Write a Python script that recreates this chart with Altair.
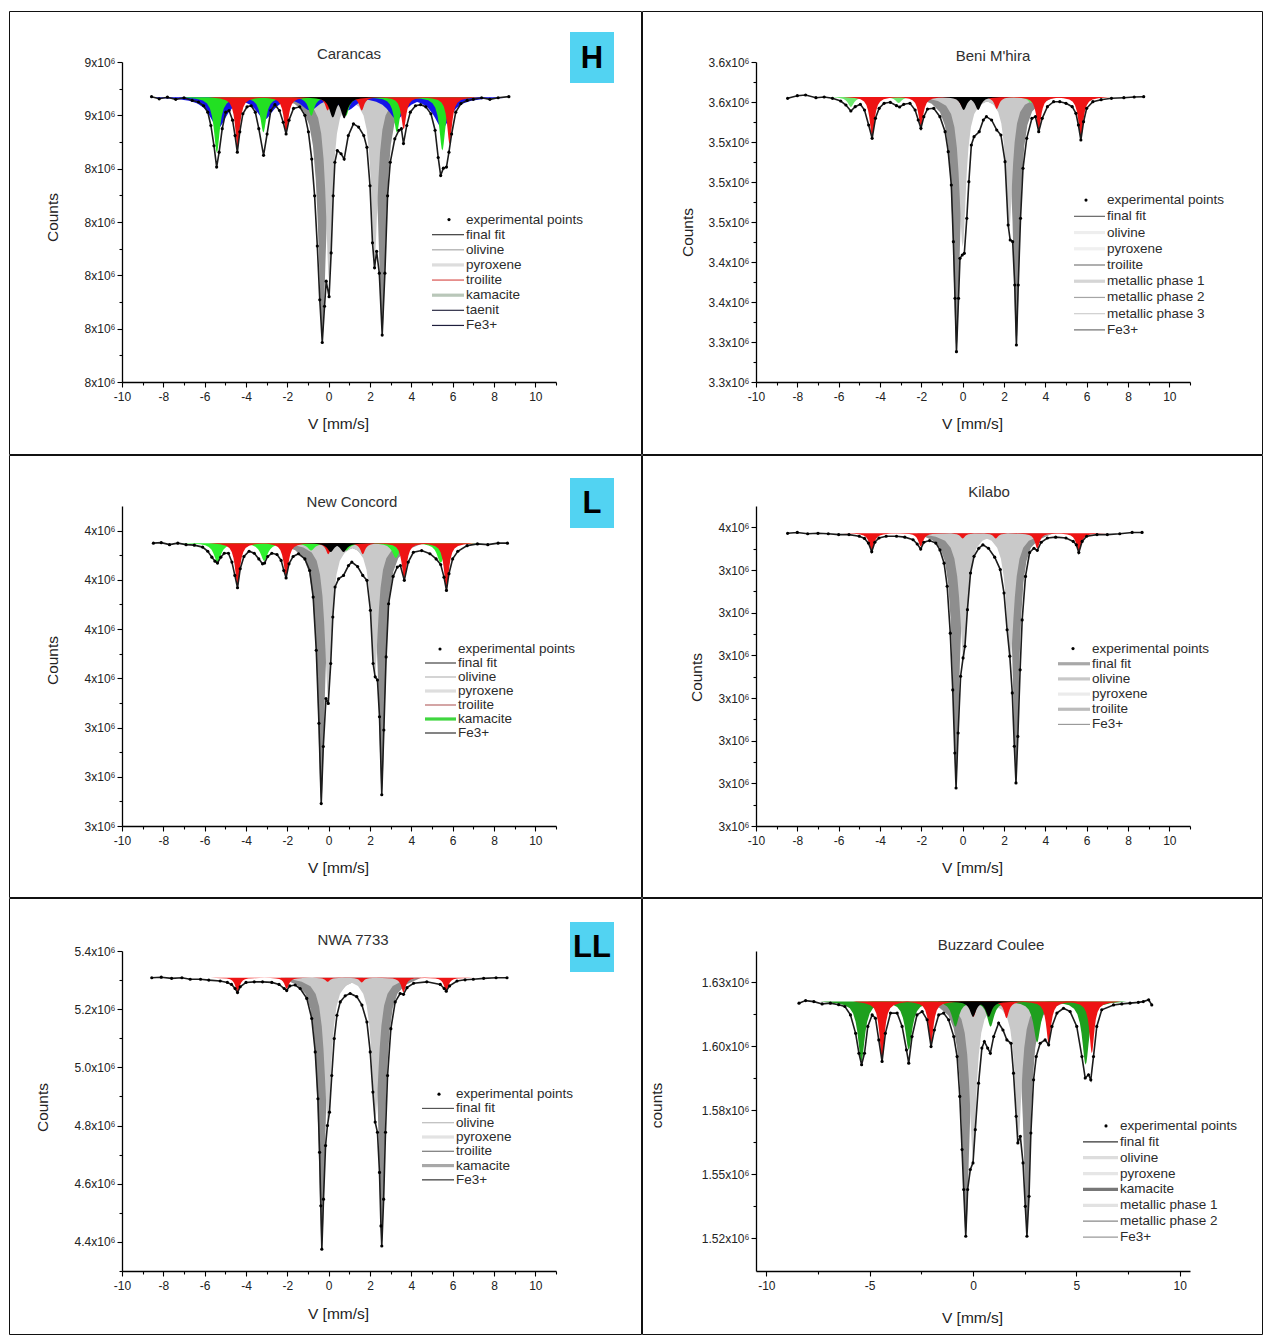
import altair as alt
import pandas as pd

FONT = "Liberation Sans, Arial, Helvetica, sans-serif"

# ----------------------------------------------------------------- data
# tabulated line shape of one fitted sub-spectrum line (offset in line widths, fraction of depth)
LINE_SHAPE_U = [-5, -3, -2, -1.4, -1.0, -0.7, -0.5, -0.35, -0.2, -0.1, 0,
                0.1, 0.2, 0.35, 0.5, 0.7, 1.0, 1.4, 2, 3, 5]
LINE_SHAPE_F = [0, 0.027, 0.059, 0.113, 0.2, 0.338, 0.5, 0.671, 0.862, 0.962, 1,
                0.962, 0.862, 0.671, 0.5, 0.338, 0.2, 0.113, 0.059, 0.027, 0]

X_TICKS_EVEN = [-10, -8, -6, -4, -2, 0, 2, 4, 6, 8, 10]
X_MINOR_ODD = [-9, -7, -5, -3, -1, 1, 3, 5, 7, 9, 11]
X_TICKS_FIVE = [-10, -5, 0, 5, 10]
X_MINOR_FIVE = [-7.5, -2.5, 2.5, 7.5]

# (velocity mm/s, counts x10^6)
CARANCAS_SPECTRUM = [
    (-8.57, 8.535), (-8.2, 8.531), (-7.8, 8.534), (-7.4, 8.530), (-7.0, 8.533), (-6.6, 8.528),
    (-6.3, 8.525), (-6.05, 8.518), (-5.85, 8.506), (-5.7, 8.481), (-5.55, 8.443), (-5.42, 8.403),
    (-5.3, 8.431), (-5.15, 8.475), (-4.98, 8.506), (-4.82, 8.509), (-4.65, 8.491), (-4.53, 8.462),
    (-4.42, 8.431), (-4.3, 8.469), (-4.15, 8.503), (-3.95, 8.516), (-3.75, 8.518), (-3.55, 8.506),
    (-3.38, 8.475), (-3.15, 8.425), (-2.98, 8.465), (-2.8, 8.509), (-2.6, 8.520), (-2.38, 8.509),
    (-2.2, 8.487), (-2.06, 8.465), (-1.92, 8.491), (-1.7, 8.513), (-1.4, 8.516), (-1.15, 8.500),
    (-0.98, 8.469), (-0.82, 8.418), (-0.68, 8.349), (-0.55, 8.255), (-0.43, 8.154), (-0.31, 8.074),
    (-0.2, 8.142), (-0.12, 8.189), (0.02, 8.160), (0.12, 8.242), (0.22, 8.349), (0.3, 8.412),
    (0.42, 8.434), (0.6, 8.428), (0.75, 8.418), (0.95, 8.462), (1.2, 8.484), (1.45, 8.478),
    (1.7, 8.462), (1.85, 8.440), (2.0, 8.368), (2.12, 8.261), (2.22, 8.214), (2.32, 8.245),
    (2.45, 8.204), (2.59, 8.088), (2.72, 8.204), (2.85, 8.349), (2.98, 8.412), (3.2, 8.456),
    (3.4, 8.472), (3.52, 8.475), (3.62, 8.447), (3.78, 8.481), (3.95, 8.506), (4.2, 8.518),
    (4.45, 8.520), (4.7, 8.516), (4.95, 8.503), (5.15, 8.472), (5.3, 8.421), (5.42, 8.387),
    (5.55, 8.401), (5.7, 8.403), (5.82, 8.431), (5.95, 8.465), (6.15, 8.506), (6.4, 8.522),
    (6.7, 8.528), (7.0, 8.530), (7.4, 8.533), (7.8, 8.530), (8.2, 8.533), (8.72, 8.535),
]
CARANCAS_BASELINE = 8.534
# (phase, centre mm/s, depth x10^6, line width mm/s)
CARANCAS_PEAKS = [
    ("olivine", -0.31, 0.456, 0.45), ("olivine", 2.59, 0.443, 0.42),
    ("pyroxene", 0.02, 0.343, 0.38), ("pyroxene", 2.22, 0.305, 0.38),
    ("taenit", -5.35, 0.058, 1.0), ("taenit", -3.1, 0.042, 1.0), ("taenit", -0.9, 0.025, 1.0),
    ("taenit", 0.9, 0.025, 1.0), ("taenit", 3.3, 0.042, 1.0), ("taenit", 5.5, 0.058, 1.0),
    ("kamacite", -5.41, 0.104, 0.34), ("kamacite", -3.16, 0.066, 0.34), ("kamacite", -0.84, 0.035, 0.34),
    ("kamacite", 0.84, 0.035, 0.34), ("kamacite", 3.3, 0.066, 0.34), ("kamacite", 5.5, 0.10, 0.34),
    ("troilite", -4.41, 0.094, 0.28), ("troilite", -2.06, 0.066, 0.28), ("troilite", -0.05, 0.025, 0.28),
    ("troilite", 1.6, 0.025, 0.28), ("troilite", 3.63, 0.06, 0.28), ("troilite", 5.85, 0.088, 0.28),
    ("Fe3+", 0.2, 0.038, 0.4), ("Fe3+", 0.75, 0.04, 0.4),
]
CARANCAS_Y_TICKS = [8.0, 8.1, 8.2, 8.3, 8.4, 8.5, 8.6]
CARANCAS_Y_LABELS = ["8x10⁶", "8x10⁶", "8x10⁶", "8x10⁶", "8x10⁶", "9x10⁶", "9x10⁶"]
CARANCAS_Y_MINOR = [8.05, 8.15, 8.25, 8.35, 8.45, 8.55]
CARANCAS_LEGEND = ["experimental points", "final fit", "olivine", "pyroxene", "troilite",
                   "kamacite", "taenit", "Fe3+"]

BENI_SPECTRUM = [
    (-8.47, 3.5837), (-8.0, 3.5863), (-7.6, 3.5870), (-7.1, 3.5843), (-6.7, 3.5850), (-6.3, 3.5837),
    (-5.9, 3.5810), (-5.65, 3.5770), (-5.41, 3.5710), (-5.2, 3.5753), (-4.95, 3.5777), (-4.75, 3.5720),
    (-4.55, 3.5570), (-4.38, 3.5437), (-4.22, 3.5637), (-4.04, 3.5737), (-3.8, 3.5787), (-3.5, 3.5797),
    (-3.2, 3.5763), (-3.05, 3.5750), (-2.85, 3.5777), (-2.55, 3.5787), (-2.3, 3.5720), (-2.15, 3.5620),
    (-2.02, 3.5537), (-1.88, 3.5653), (-1.7, 3.5730), (-1.4, 3.5737), (-1.1, 3.5653), (-0.85, 3.5503),
    (-0.7, 3.5303), (-0.55, 3.4970), (-0.45, 3.4403), (-0.37, 3.3837), (-0.3, 3.3303), (-0.2, 3.3837),
    (-0.13, 3.4237), (-0.02, 3.4270), (0.08, 3.4287), (0.2, 3.4637), (0.3, 3.5003), (0.42, 3.5370),
    (0.55, 3.5453), (0.8, 3.5503), (1.0, 3.5620), (1.15, 3.5653), (1.4, 3.5620), (1.65, 3.5520),
    (1.85, 3.5470), (2.05, 3.5203), (2.2, 3.4570), (2.3, 3.4420), (2.42, 3.4403), (2.52, 3.3970),
    (2.6, 3.3370), (2.69, 3.3970), (2.8, 3.4637), (2.92, 3.5137), (3.1, 3.5437), (3.35, 3.5637),
    (3.52, 3.5653), (3.68, 3.5503), (3.85, 3.5637), (4.1, 3.5753), (4.4, 3.5803), (4.7, 3.5803),
    (5.0, 3.5787), (5.3, 3.5753), (5.48, 3.5687), (5.6, 3.5570), (5.72, 3.5420), (5.85, 3.5603),
    (6.0, 3.5737), (6.3, 3.5803), (6.7, 3.5823), (7.2, 3.5837), (7.8, 3.5843), (8.3, 3.5850),
    (8.76, 3.5853),
]
BENI_BASELINE = 3.585
BENI_PEAKS = [
    ("olivine", -0.3, 0.253, 0.4), ("olivine", 2.6, 0.247, 0.38),
    ("pyroxene", 0.0, 0.15, 0.4), ("pyroxene", 2.25, 0.133, 0.38),
    ("metallic", -5.41, 0.01, 0.35), ("metallic", -3.1, 0.006, 0.35),
    ("metallic", 3.3, 0.006, 0.35), ("metallic", 5.5, 0.008, 0.35),
    ("troilite", -4.38, 0.040, 0.28), ("troilite", -2.02, 0.030, 0.28), ("troilite", -0.02, 0.01, 0.28),
    ("troilite", 1.65, 0.012, 0.28), ("troilite", 3.68, 0.033, 0.28), ("troilite", 5.72, 0.042, 0.28),
    ("Fe3+", 0.05, 0.013, 0.35), ("Fe3+", 0.75, 0.013, 0.35),
]
BENI_Y_TICKS = [3.3, 3.34, 3.38, 3.42, 3.46, 3.5, 3.54, 3.58, 3.62]
BENI_Y_LABELS = ["3.3x10⁶", "3.3x10⁶", "3.4x10⁶", "3.4x10⁶", "3.5x10⁶", "3.5x10⁶", "3.5x10⁶",
                 "3.6x10⁶", "3.6x10⁶"]
BENI_Y_MINOR = [3.32, 3.36, 3.4, 3.44, 3.48, 3.52, 3.56, 3.6]
BENI_LEGEND = ["experimental points", "final fit", "olivine", "pyroxene", "troilite",
               "metallic phase 1", "metallic phase 2", "metallic phase 3", "Fe3+"]

NEW_CONCORD_SPECTRUM = [
    (-8.48, 4.149), (-8.1, 4.151), (-7.7, 4.143), (-7.3, 4.149), (-6.9, 4.143), (-6.5, 4.141),
    (-6.1, 4.133), (-5.85, 4.116), (-5.65, 4.092), (-5.5, 4.076), (-5.38, 4.068), (-5.22, 4.092),
    (-5.05, 4.108), (-4.85, 4.108), (-4.68, 4.072), (-4.54, 4.018), (-4.41, 3.968), (-4.28, 4.045),
    (-4.1, 4.095), (-3.85, 4.116), (-3.6, 4.108), (-3.38, 4.085), (-3.2, 4.065), (-3.1, 4.068),
    (-2.95, 4.095), (-2.75, 4.108), (-2.5, 4.103), (-2.3, 4.079), (-2.17, 4.038), (-2.06, 4.008),
    (-1.92, 4.065), (-1.72, 4.095), (-1.46, 4.106), (-1.15, 4.085), (-0.92, 4.038), (-0.75, 3.930),
    (-0.6, 3.714), (-0.47, 3.417), (-0.36, 3.091), (-0.26, 3.323), (-0.13, 3.518), (-0.02, 3.498),
    (0.1, 3.660), (0.2, 3.849), (0.31, 3.971), (0.48, 4.004), (0.72, 4.018), (0.96, 4.058),
    (1.12, 4.072), (1.4, 4.054), (1.65, 4.018), (1.85, 3.998), (2.02, 3.876), (2.15, 3.660),
    (2.25, 3.606), (2.36, 3.593), (2.46, 3.444), (2.57, 3.127), (2.67, 3.390), (2.78, 3.687),
    (2.9, 3.903), (3.12, 4.014), (3.32, 4.052), (3.47, 4.058), (3.66, 3.998), (3.85, 4.072),
    (4.1, 4.112), (4.5, 4.119), (4.9, 4.106), (5.2, 4.085), (5.42, 4.062), (5.58, 4.011),
    (5.7, 3.957), (5.82, 4.025), (6.0, 4.085), (6.25, 4.116), (6.7, 4.139), (7.2, 4.146),
    (7.7, 4.143), (8.2, 4.149), (8.65, 4.149),
]
NEW_CONCORD_BASELINE = 4.149
NEW_CONCORD_PEAKS = [
    ("olivine", -0.36, 1.053, 0.42), ("olivine", 2.57, 1.015, 0.4),
    ("pyroxene", -0.02, 0.634, 0.4), ("pyroxene", 2.23, 0.54, 0.4),
    ("kamacite", -5.38, 0.077, 0.42), ("kamacite", -3.12, 0.072, 0.42), ("kamacite", -0.85, 0.03, 0.42),
    ("kamacite", 0.85, 0.03, 0.42), ("kamacite", 3.25, 0.06, 0.42), ("kamacite", 5.42, 0.08, 0.42),
    ("troilite", -4.41, 0.178, 0.28), ("troilite", -2.06, 0.138, 0.28), ("troilite", -0.02, 0.045, 0.28),
    ("troilite", 1.65, 0.045, 0.28), ("troilite", 3.66, 0.15, 0.28), ("troilite", 5.7, 0.19, 0.28),
    ("Fe3+", 0.1, 0.036, 0.4), ("Fe3+", 0.72, 0.036, 0.4),
]
NEW_CONCORD_Y_TICKS = [3.0, 3.2, 3.4, 3.6, 3.8, 4.0, 4.2]
NEW_CONCORD_Y_LABELS = ["3x10⁶", "3x10⁶", "3x10⁶", "4x10⁶", "4x10⁶", "4x10⁶", "4x10⁶"]
NEW_CONCORD_Y_MINOR = [3.1, 3.3, 3.5, 3.7, 3.9, 4.1]
NEW_CONCORD_LEGEND = ["experimental points", "final fit", "olivine", "pyroxene", "troilite",
                      "kamacite", "Fe3+"]

KILABO_SPECTRUM = [
    (-8.47, 3.486), (-8.0, 3.488), (-7.5, 3.485), (-7.0, 3.486), (-6.5, 3.485), (-6.0, 3.483),
    (-5.5, 3.483), (-5.0, 3.479), (-4.75, 3.474), (-4.56, 3.463), (-4.4, 3.443), (-4.25, 3.465),
    (-4.05, 3.475), (-3.7, 3.479), (-3.2, 3.479), (-2.8, 3.477), (-2.4, 3.471), (-2.2, 3.461),
    (-2.03, 3.449), (-1.88, 3.465), (-1.6, 3.469), (-1.3, 3.463), (-1.1, 3.447), (-0.9, 3.416),
    (-0.75, 3.362), (-0.6, 3.252), (-0.48, 3.119), (-0.38, 2.971), (-0.32, 2.889), (-0.22, 3.018),
    (-0.1, 3.151), (0.02, 3.194), (0.11, 3.221), (0.23, 3.307), (0.38, 3.393), (0.55, 3.432),
    (0.78, 3.451), (0.98, 3.459), (1.25, 3.451), (1.55, 3.430), (1.82, 3.401), (2.0, 3.346),
    (2.15, 3.260), (2.28, 3.198), (2.4, 3.112), (2.5, 2.987), (2.58, 2.901), (2.67, 3.010),
    (2.78, 3.166), (2.88, 3.283), (3.04, 3.385), (3.24, 3.441), (3.45, 3.451), (3.61, 3.446),
    (3.8, 3.465), (4.1, 3.475), (4.5, 3.477), (5.0, 3.475), (5.35, 3.467), (5.5, 3.459),
    (5.62, 3.441), (5.78, 3.467), (6.0, 3.479), (6.5, 3.483), (7.0, 3.483), (7.6, 3.485),
    (8.2, 3.488), (8.68, 3.488),
]
KILABO_BASELINE = 3.486
KILABO_PEAKS = [
    ("olivine", -0.32, 0.593, 0.38), ("olivine", 2.58, 0.578, 0.36),
    ("pyroxene", 0.05, 0.297, 0.45), ("pyroxene", 2.3, 0.297, 0.45),
    ("troilite", -4.4, 0.043, 0.28), ("troilite", -2.03, 0.031, 0.28), ("troilite", 0.0, 0.012, 0.28),
    ("troilite", 1.6, 0.012, 0.28), ("troilite", 3.61, 0.035, 0.28), ("troilite", 5.62, 0.045, 0.28),
]
KILABO_Y_TICKS = [2.8, 2.9, 3.0, 3.1, 3.2, 3.3, 3.4, 3.5]
KILABO_Y_LABELS = ["3x10⁶", "3x10⁶", "3x10⁶", "3x10⁶", "3x10⁶", "3x10⁶", "3x10⁶", "4x10⁶"]
KILABO_Y_MINOR = [2.85, 2.95, 3.05, 3.15, 3.25, 3.35, 3.45]
KILABO_LEGEND = ["experimental points", "final fit", "olivine", "pyroxene", "troilite", "Fe3+"]

NWA_SPECTRUM = [
    (-8.56, 5.308), (-8.1, 5.310), (-7.6, 5.306), (-7.1, 5.308), (-6.7, 5.303), (-6.2, 5.303),
    (-5.8, 5.300), (-5.25, 5.297), (-4.9, 5.292), (-4.7, 5.285), (-4.53, 5.271), (-4.41, 5.257),
    (-4.28, 5.277), (-4.0, 5.292), (-3.6, 5.294), (-3.2, 5.294), (-2.75, 5.292), (-2.4, 5.285),
    (-2.15, 5.271), (-2.03, 5.264), (-1.88, 5.280), (-1.62, 5.283), (-1.38, 5.271), (-1.06, 5.237),
    (-0.82, 5.168), (-0.65, 5.053), (-0.52, 4.892), (-0.44, 4.708), (-0.38, 4.524), (-0.33, 4.375),
    (-0.25, 4.547), (-0.15, 4.731), (-0.06, 4.800), (0.04, 4.846), (0.15, 4.972), (0.27, 5.099),
    (0.4, 5.179), (0.56, 5.225), (0.8, 5.246), (1.04, 5.254), (1.36, 5.243), (1.61, 5.214),
    (1.85, 5.156), (2.01, 5.053), (2.14, 4.915), (2.25, 4.812), (2.36, 4.777), (2.46, 4.639),
    (2.53, 4.455), (2.57, 4.386), (2.66, 4.547), (2.75, 4.777), (2.85, 4.972), (3.01, 5.133),
    (3.22, 5.225), (3.46, 5.254), (3.62, 5.251), (3.79, 5.274), (4.11, 5.289), (4.75, 5.294),
    (5.4, 5.285), (5.59, 5.271), (5.69, 5.262), (5.85, 5.280), (6.21, 5.297), (6.6, 5.301),
    (7.0, 5.303), (7.5, 5.306), (8.1, 5.308), (8.63, 5.308),
]
NWA_BASELINE = 5.308
NWA_PEAKS = [
    ("olivine", -0.33, 0.931, 0.4), ("olivine", 2.57, 0.92, 0.38),
    ("pyroxene", -0.04, 0.494, 0.42), ("pyroxene", 2.26, 0.483, 0.42),
    ("troilite", -4.41, 0.048, 0.26), ("troilite", -2.03, 0.038, 0.26), ("troilite", -0.05, 0.014, 0.26),
    ("troilite", 1.6, 0.016, 0.26), ("troilite", 3.62, 0.05, 0.26), ("troilite", 5.69, 0.046, 0.26),
]
NWA_Y_TICKS = [4.4, 4.6, 4.8, 5.0, 5.2, 5.4]
NWA_Y_LABELS = ["4.4x10⁶", "4.6x10⁶", "4.8x10⁶", "5.0x10⁶", "5.2x10⁶", "5.4x10⁶"]
NWA_Y_MINOR = [4.3, 4.5, 4.7, 4.9, 5.1, 5.3]
NWA_LEGEND = ["experimental points", "final fit", "olivine", "pyroxene", "troilite", "kamacite", "Fe3+"]

BUZZARD_SPECTRUM = [
    (-8.42, 1.6169), (-8.1, 1.6179), (-7.7, 1.6175), (-7.3, 1.6166), (-6.9, 1.6169), (-6.5, 1.6163),
    (-6.2, 1.6156), (-5.93, 1.6123), (-5.68, 1.6051), (-5.52, 1.5973), (-5.39, 1.5928), (-5.25, 1.5973),
    (-5.09, 1.6078), (-4.88, 1.6123), (-4.72, 1.6110), (-4.56, 1.6025), (-4.4, 1.5941), (-4.24, 1.6051),
    (-3.99, 1.6130), (-3.67, 1.6130), (-3.43, 1.6078), (-3.22, 1.5986), (-3.11, 1.5934), (-2.95, 1.6038),
    (-2.71, 1.6123), (-2.46, 1.6136), (-2.22, 1.6104), (-2.03, 1.5999), (-1.87, 1.6064), (-1.66, 1.6123),
    (-1.42, 1.6130), (-1.18, 1.6104), (-0.93, 1.6038), (-0.77, 1.5960), (-0.64, 1.5804), (-0.53, 1.5596),
    (-0.45, 1.5440), (-0.35, 1.5257), (-0.26, 1.5440), (-0.13, 1.5518), (0.0, 1.5544), (0.11, 1.5674),
    (0.27, 1.5856), (0.43, 1.5993), (0.55, 1.6019), (0.71, 1.5993), (0.84, 1.5973), (1.0, 1.6038),
    (1.24, 1.6091), (1.45, 1.6064), (1.64, 1.6025), (1.84, 1.6012), (1.96, 1.5895), (2.09, 1.5726),
    (2.17, 1.5622), (2.29, 1.5648), (2.42, 1.5544), (2.53, 1.5374), (2.61, 1.5257), (2.71, 1.5413),
    (2.8, 1.5661), (2.93, 1.5869), (3.06, 1.5960), (3.25, 1.6012), (3.49, 1.6025), (3.66, 1.6006),
    (3.82, 1.6078), (4.06, 1.6130), (4.38, 1.6149), (4.7, 1.6136), (5.02, 1.6078), (5.27, 1.5960),
    (5.43, 1.5876), (5.59, 1.5889), (5.7, 1.5869), (5.83, 1.5960), (5.99, 1.6078), (6.23, 1.6143),
    (6.8, 1.6162), (7.2, 1.6166), (7.6, 1.6169), (8.0, 1.6172), (8.24, 1.6175), (8.5, 1.6182),
    (8.65, 1.6162),
]
BUZZARD_BASELINE = 1.6175
BUZZARD_PEAKS = [
    ("olivine", -0.35, 0.0918, 0.42), ("olivine", 2.61, 0.0911, 0.4),
    ("pyroxene", 0.0, 0.0612, 0.4), ("pyroxene", 2.2, 0.0534, 0.4),
    ("kamacite", -5.4, 0.0234, 0.4), ("kamacite", -3.11, 0.0189, 0.4), ("kamacite", -0.85, 0.0098, 0.4),
    ("kamacite", 0.85, 0.0098, 0.4), ("kamacite", 3.1, 0.016, 0.4), ("kamacite", 5.45, 0.0247, 0.4),
    ("troilite", -4.4, 0.0234, 0.28), ("troilite", -2.03, 0.0169, 0.28), ("troilite", 0.02, 0.006, 0.28),
    ("troilite", 1.62, 0.0065, 0.28), ("troilite", 3.66, 0.0163, 0.28), ("troilite", 5.75, 0.0202, 0.28),
    ("Fe3+", 0.0, 0.006, 0.35), ("Fe3+", 0.76, 0.006, 0.35),
]
BUZZARD_Y_TICKS = [1.525, 1.55, 1.575, 1.6, 1.625]
BUZZARD_Y_LABELS = ["1.52x10⁶", "1.55x10⁶", "1.58x10⁶", "1.60x10⁶", "1.63x10⁶"]
BUZZARD_Y_MINOR = [1.5375, 1.5625, 1.5875, 1.6125]
BUZZARD_LEGEND = ["experimental points", "final fit", "olivine", "pyroxene", "kamacite",
                  "metallic phase 1", "metallic phase 2", "Fe3+"]

PANELS = {
    "Carancas": dict(spectrum=CARANCAS_SPECTRUM, baseline=CARANCAS_BASELINE, peaks=CARANCAS_PEAKS,
                     y_ticks=CARANCAS_Y_TICKS, y_labels=CARANCAS_Y_LABELS, y_minor=CARANCAS_Y_MINOR,
                     x_ticks=X_TICKS_EVEN, x_minor=X_MINOR_ODD, legend=CARANCAS_LEGEND,
                     ytitle="Counts", badge="H"),
    "Beni M'hira": dict(spectrum=BENI_SPECTRUM, baseline=BENI_BASELINE, peaks=BENI_PEAKS,
                        y_ticks=BENI_Y_TICKS, y_labels=BENI_Y_LABELS, y_minor=BENI_Y_MINOR,
                        x_ticks=X_TICKS_EVEN, x_minor=X_MINOR_ODD, legend=BENI_LEGEND,
                        ytitle="Counts", badge=""),
    "New Concord": dict(spectrum=NEW_CONCORD_SPECTRUM, baseline=NEW_CONCORD_BASELINE, peaks=NEW_CONCORD_PEAKS,
                        y_ticks=NEW_CONCORD_Y_TICKS, y_labels=NEW_CONCORD_Y_LABELS, y_minor=NEW_CONCORD_Y_MINOR,
                        x_ticks=X_TICKS_EVEN, x_minor=X_MINOR_ODD, legend=NEW_CONCORD_LEGEND,
                        ytitle="Counts", badge="L"),
    "Kilabo": dict(spectrum=KILABO_SPECTRUM, baseline=KILABO_BASELINE, peaks=KILABO_PEAKS,
                   y_ticks=KILABO_Y_TICKS, y_labels=KILABO_Y_LABELS, y_minor=KILABO_Y_MINOR,
                   x_ticks=X_TICKS_EVEN, x_minor=X_MINOR_ODD, legend=KILABO_LEGEND,
                   ytitle="Counts", badge=""),
    "NWA 7733": dict(spectrum=NWA_SPECTRUM, baseline=NWA_BASELINE, peaks=NWA_PEAKS,
                     y_ticks=NWA_Y_TICKS, y_labels=NWA_Y_LABELS, y_minor=NWA_Y_MINOR,
                     x_ticks=X_TICKS_EVEN, x_minor=X_MINOR_ODD, legend=NWA_LEGEND,
                     ytitle="Counts", badge="LL"),
    "Buzzard Coulee": dict(spectrum=BUZZARD_SPECTRUM, baseline=BUZZARD_BASELINE, peaks=BUZZARD_PEAKS,
                           y_ticks=BUZZARD_Y_TICKS, y_labels=BUZZARD_Y_LABELS, y_minor=BUZZARD_Y_MINOR,
                           x_ticks=X_TICKS_FIVE, x_minor=X_MINOR_FIVE, legend=BUZZARD_LEGEND,
                           ytitle="counts", badge=""),
}

# ----------------------------------------------------------------- styles / layout
W, H = 434, 320
COMP_ORDER = ["olivine", "pyroxene", "taenit", "kamacite", "metallic", "troilite", "Fe3+"]
COMP_COLORS = {"olivine": "#8e8e8e", "pyroxene": "#c9c9c9", "taenit": "#1414e8",
               "kamacite": "#22e022", "metallic": "#6ee86e", "troilite": "#ee1414", "Fe3+": "#000000"}

STYLE = {
    "Carancas": dict(xdom=[-10, 11], ydom=[8.0, 8.6], cell=(-112.5, 519.5, -50.5, 392.5),
                     title=(227, -8), ytitle=(-70, 155), xtitle=(216, 41),
                     leg=dict(y0=150, y1=271, tx=344, lx1=310, lx2=342, dx=327),
                     badge=(448, 492, -30, 21), kam="#22e022",
                     leg_colors=["#000000", "#3c3c3c", "#a9a9a9", "#dddddd", "#d9534f", "#b9c7b9", "#2b2b45", "#1f1f3d"],
                     leg_thick=["pyroxene", "kamacite"]),
    "Beni M'hira": dict(xdom=[-10, 11], ydom=[3.3, 3.62], cell=(-113.5, 506.5, -50.5, 392.5),
                        title=(237, -6), ytitle=(-69, 170), xtitle=(216, 41),
                        leg=dict(y0=130, y1=276, tx=351, lx1=318, lx2=349, dx=330),
                        badge=None, kam="#6ee86e",
                        leg_colors=["#000000", "#666666", "#eeeeee", "#f0f0f0", "#7a7a7a", "#d5d5d5", "#a5a5a5", "#cfcfcf", "#6e6e6e"],
                        leg_thick=["olivine", "pyroxene", "metallic phase 1"]),
    "New Concord": dict(xdom=[-10, 11], ydom=[3.0, 4.3], cell=(-112.5, 519.5, -50.5, 391.5),
                        title=(230, -4), ytitle=(-70, 154), xtitle=(216, 41),
                        leg=dict(y0=136, y1=234, tx=336, lx1=303, lx2=334, dx=318),
                        badge=(448, 492, -28, 22), kam="#2ef02e",
                        leg_colors=["#000000", "#444444", "#b8b8b8", "#dedede", "#b86a6a", "#3fd63f", "#333333"],
                        leg_thick=["pyroxene", "kamacite"]),
    "Kilabo": dict(xdom=[-10, 11], ydom=[2.8, 3.55], cell=(-113.5, 506.5, -50.5, 391.5),
                   title=(233, -14), ytitle=(-60, 171), xtitle=(216, 41),
                   leg=dict(y0=135, y1=226, tx=336, lx1=302, lx2=334, dx=317),
                   badge=None, kam="#22e022",
                   leg_colors=["#000000", "#a8a8a8", "#c8c8c8", "#ebebeb", "#bcbcbc", "#9a9a9a"],
                   leg_thick=["final fit", "olivine", "pyroxene", "troilite"]),
    "NWA 7733": dict(xdom=[-10, 11], ydom=[4.3, 5.4], cell=(-112.5, 519.5, -52.5, 383.5),
                     title=(231, -11), ytitle=(-80, 156), xtitle=(216, 42),
                     leg=dict(y0=136, y1=236, tx=334, lx1=300, lx2=332, dx=317),
                     badge=(448, 492, -29, 21), kam="#aaaaaa",
                     leg_colors=["#000000", "#555555", "#bbbbbb", "#e3e3e3", "#777777", "#a8a8a8", "#333333"],
                     leg_thick=["pyroxene", "kamacite"]),
    "Buzzard Coulee": dict(xdom=[-10.5, 10.5], ydom=[1.5121, 1.6373], cell=(-113.5, 506.5, -52.5, 383.5),
                           title=(235, -6), ytitle=(-100, 154), xtitle=(216, 46),
                           leg=dict(y0=167, y1=294, tx=364, lx1=327, lx2=362, dx=350),
                           badge=None, kam="#1ea01e",
                           leg_colors=["#000000", "#333333", "#dddddd", "#e6e6e6", "#777777", "#e2e2e2", "#888888", "#9a9a9a"],
                           leg_thick=["olivine", "pyroxene", "kamacite", "metallic phase 1"]),
}

AXIS_COMMON = dict(grid=False, labelFont=FONT, labelColor="#222222", labelOverlap=False, labelFlush=False,
                   titleFont=FONT, titleFontSize=15.5, titleFontWeight="normal", titleColor="#222222",
                   domainColor="#000000", domainWidth=1.3, tickColor="#000000", tickWidth=1.1,
                   titleAlign="center", titleBaseline="middle")


def build_panel(name):
    d = PANELS[name]
    s = STYLE[name]
    base = d["baseline"]

    exp_df = pd.DataFrame(d["spectrum"], columns=["v", "y"])
    vmin, vmax = exp_df["v"].min(), exp_df["v"].max()
    rows = []
    for i, (comp, c, dep, g) in enumerate(d["peaks"]):
        for u, f in zip(LINE_SHAPE_U, LINE_SHAPE_F):
            v = round(c + u * g, 4)
            if vmin <= v <= vmax:
                rows.append({"component": comp, "peak": i, "v": v,
                             "y": base - dep * f, "base": base})
    comp_df = pd.DataFrame(rows)

    ymaj, ylab, ymin = d["y_ticks"], d["y_labels"], d["y_minor"]
    ytest = f"indexof({ymaj}, datum.value) >= 0"
    yaxis = alt.Axis(values=sorted(ymaj + ymin),
                     labelExpr=f"{ytest} ? {ylab}[indexof({ymaj}, datum.value)] : ''",
                     tickSize={"condition": {"test": ytest, "value": 5}, "value": 3},
                     labelFontSize=12, labelPadding=2,
                     title=d["ytitle"], titleX=s["ytitle"][0], titleY=s["ytitle"][1], titleAngle=270,
                     **AXIS_COMMON)
    xmaj, xmin = d["x_ticks"], d["x_minor"]
    xtest = f"indexof({xmaj}, datum.value) >= 0"
    xaxis = alt.Axis(values=sorted(xmaj + xmin),
                     labelExpr=f"{xtest} ? '' + datum.value : ''",
                     tickSize={"condition": {"test": xtest, "value": 5}, "value": 3},
                     labelFontSize=12, labelPadding=4,
                     title="V [mm/s]", titleX=s["xtitle"][0], titleY=s["xtitle"][1],
                     **AXIS_COMMON)

    X = alt.X("v:Q", scale=alt.Scale(domain=s["xdom"], nice=False, zero=False), axis=xaxis)
    Y = alt.Y("y:Q", scale=alt.Scale(domain=s["ydom"], nice=False, zero=False), axis=yaxis)

    present = {p[0] for p in d["peaks"]}
    data_layers = []
    for comp in COMP_ORDER:
        if comp not in present:
            continue
        color = s["kam"] if comp == "kamacite" else COMP_COLORS[comp]
        data_layers.append(
            alt.Chart(comp_df)
            .transform_filter(alt.datum.component == comp)
            .mark_area(color=color, clip=True, opacity=1)
            .encode(x=X, y=Y, y2=alt.Y2("base"), detail="peak:N")
        )
    data_layers.append(alt.Chart(exp_df).mark_line(color="#1c1c1c", strokeWidth=1.6).encode(x=X, y=Y))
    data_layers.append(alt.Chart(exp_df).mark_circle(color="#000000", size=10, opacity=1).encode(x=X, y=Y))
    data_group = alt.layer(*data_layers)

    # legend drawn as text + rule marks
    labels = d["legend"]
    lg = s["leg"]
    ldf = pd.DataFrame({"label": labels})
    LY = alt.Y("label:N", scale=alt.Scale(domain=labels, range=[lg["y0"], lg["y1"]], padding=0), axis=None)
    lcolor = alt.Color("label:N", scale=alt.Scale(domain=labels, range=s["leg_colors"]), legend=None)
    thick = [l for l in labels if l in s["leg_thick"]]
    thin = [l for l in labels if l not in s["leg_thick"] and l != "experimental points"]
    leg_layers = [
        alt.Chart(ldf).mark_text(align="left", baseline="middle", font=FONT, fontSize=13.5, color="#2b2b2b")
        .encode(x=alt.value(lg["tx"]), y=LY, text="label:N"),
        alt.Chart(ldf).transform_filter(alt.FieldOneOfPredicate(field="label", oneOf=thin))
        .mark_rule(strokeWidth=1.2)
        .encode(x=alt.value(lg["lx1"]), x2=alt.value(lg["lx2"]), y=LY, color=lcolor),
    ]
    if thick:
        leg_layers.append(
            alt.Chart(ldf).transform_filter(alt.FieldOneOfPredicate(field="label", oneOf=thick))
            .mark_rule(strokeWidth=3.2)
            .encode(x=alt.value(lg["lx1"]), x2=alt.value(lg["lx2"]), y=LY, color=lcolor)
        )
    leg_layers.append(
        alt.Chart(ldf).transform_filter(alt.datum.label == "experimental points")
        .mark_circle(color="#000000", size=10, opacity=1)
        .encode(x=alt.value(lg["dx"]), y=LY)
    )
    legend_group = alt.layer(*leg_layers)

    one = alt.Data(values=[{}])
    c0, c1, c2, c3 = s["cell"]
    border = alt.Chart(one).mark_rect(fill="transparent", stroke="#111111", strokeWidth=1).encode(
        x=alt.value(c0), x2=alt.value(c1), y=alt.value(c2), y2=alt.value(c3))
    title = alt.Chart(one).mark_text(text=name, font=FONT, fontSize=15, color="#303030",
                                     align="center", baseline="middle").encode(
        x=alt.value(s["title"][0]), y=alt.value(s["title"][1]))
    extra = []
    if s["badge"]:
        b0, b1, b2, b3 = s["badge"]
        extra.append(alt.Chart(one).mark_rect(color="#52d3f2").encode(
            x=alt.value(b0), x2=alt.value(b1), y=alt.value(b2), y2=alt.value(b3)))
        extra.append(alt.Chart(one).mark_text(text=d["badge"], font=FONT, fontSize=31, fontWeight="bold",
                                              color="#000000", align="center", baseline="middle").encode(
            x=alt.value((b0 + b1) / 2), y=alt.value((b2 + b3) / 2 + 1)))

    return (alt.layer(border, data_group, legend_group, title, *extra)
            .resolve_scale(y="independent", color="independent")
            .properties(width=W, height=H))


P = {name: build_panel(name) for name in PANELS}


def row(a, b):
    return alt.hconcat(P[a], P[b], spacing=0).resolve_scale(color="independent")


chart = alt.vconcat(
    row("Carancas", "Beni M'hira"),
    row("New Concord", "Kilabo"),
    row("NWA 7733", "Buzzard Coulee"),
    spacing=0,
).resolve_scale(color="independent").properties(
    padding={"left": 9, "top": 11, "right": 0, "bottom": 0},
    background="white",
).configure(font=FONT).configure_view(strokeWidth=0)

chart.save("out.html", embed_options={"renderer": "svg", "actions": False})
